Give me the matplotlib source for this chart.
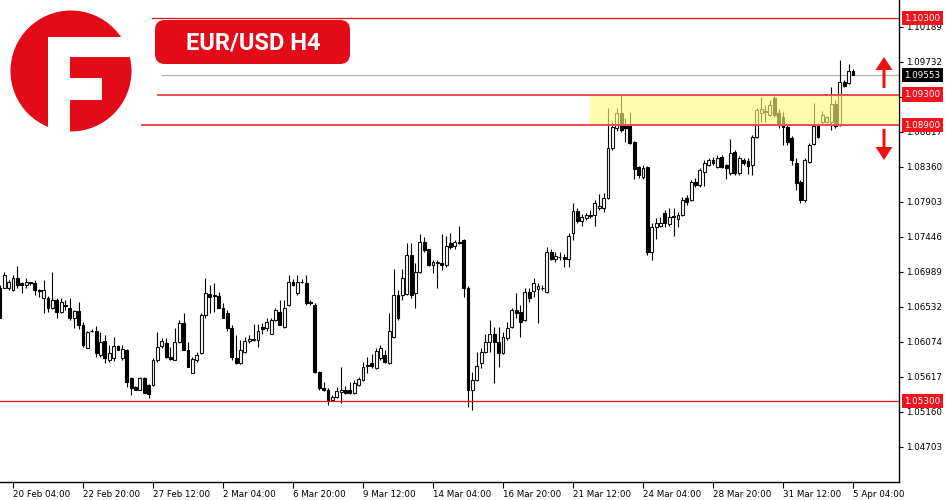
import matplotlib
matplotlib.use("Agg")
import numpy as np
import matplotlib.pyplot as plt
import matplotlib.transforms as mtransforms
from matplotlib.patches import Circle, Rectangle, FancyBboxPatch, FancyArrow

# EUR/USD H4 candles
opens = [
    1.0678, 1.0678, 1.0677, 1.0675, 1.0691, 1.0684, 1.0681, 1.0685, 1.0684, 1.0675,
    1.0664, 1.0664, 1.0652, 1.0662, 1.0646, 1.0655, 1.0651, 1.0638, 1.0647, 1.0629,
    1.0599, 1.0622, 1.0622, 1.0590, 1.0608, 1.0583, 1.0586, 1.0602, 1.0586, 1.0597,
    1.0560, 1.0548, 1.0545, 1.0560, 1.0551, 1.0551, 1.0583, 1.0602, 1.0606, 1.0587,
    1.0583, 1.0607, 1.0632, 1.0597, 1.0566, 1.0583, 1.0593, 1.0642, 1.0670, 1.0668,
    1.0667, 1.0652, 1.0645, 1.0625, 1.0586, 1.0580, 1.0594, 1.0608, 1.0610, 1.0610,
    1.0626, 1.0625, 1.0618, 1.0636, 1.0646, 1.0626, 1.0655, 1.0685, 1.0671, 1.0686,
    1.0684, 1.0659, 1.0656, 1.0568, 1.0547, 1.0545, 1.0531, 1.0535, 1.0542, 1.0545,
    1.0545, 1.0540, 1.0551, 1.0557, 1.0576, 1.0580, 1.0573, 1.0586, 1.0590, 1.0580,
    1.0613, 1.0668, 1.0668, 1.0670, 1.0720, 1.0671, 1.0698, 1.0738, 1.0728, 1.0708,
    1.0710, 1.0710, 1.0707, 1.0736, 1.0732, 1.0738, 1.0740, 1.0678, 1.0544, 1.0557,
    1.0580, 1.0594, 1.0607, 1.0618, 1.0607, 1.0593, 1.0612, 1.0626, 1.0649, 1.0646,
    1.0636, 1.0672, 1.0673, 1.0676, 1.0678, 1.0672, 1.0724, 1.0716, 1.0718, 1.0718,
    1.0716, 1.0749, 1.0778, 1.0765, 1.0769, 1.0773, 1.0773, 1.0782, 1.0782, 1.0795,
    1.0860, 1.0886, 1.0906, 1.0889, 1.0889, 1.0868, 1.0835, 1.0822, 1.0835, 1.0724,
    1.0757, 1.0758, 1.0775, 1.0761, 1.0771, 1.0767, 1.0773, 1.0795, 1.0792, 1.0816,
    1.0812, 1.0829, 1.0838, 1.0845, 1.0835, 1.0849, 1.0838, 1.0828, 1.0855, 1.0828,
    1.0845, 1.0843, 1.0838, 1.0875, 1.0906, 1.0908, 1.0903, 1.0925, 1.0906, 1.0901,
    1.0888, 1.0873, 1.0841, 1.0816, 1.0792, 1.0842, 1.0865, 1.0889, 1.0894, 1.0894,
    1.0894, 1.0918, 1.0890, 1.0946, 1.0945, 1.0961,
]
highs = [
    1.0681, 1.0698, 1.0688, 1.0695, 1.0706, 1.0685, 1.0691, 1.0686, 1.0688, 1.0676,
    1.0688, 1.0667, 1.0698, 1.0664, 1.0664, 1.0662, 1.0664, 1.0649, 1.0659, 1.0633,
    1.0622, 1.0624, 1.0628, 1.0620, 1.0616, 1.0603, 1.0613, 1.0603, 1.0603, 1.0598,
    1.0561, 1.0549, 1.0561, 1.0561, 1.0552, 1.0586, 1.0620, 1.0612, 1.0612, 1.0600,
    1.0625, 1.0636, 1.0645, 1.0607, 1.0588, 1.0594, 1.0645, 1.0691, 1.0681, 1.0684,
    1.0672, 1.0658, 1.0649, 1.0629, 1.0616, 1.0610, 1.0614, 1.0616, 1.0630, 1.0630,
    1.0632, 1.0638, 1.0638, 1.0651, 1.0662, 1.0662, 1.0694, 1.0689, 1.0694, 1.0689,
    1.0694, 1.0662, 1.0658, 1.0569, 1.0555, 1.0547, 1.0538, 1.0548, 1.0574, 1.0549,
    1.0555, 1.0557, 1.0562, 1.0581, 1.0587, 1.0591, 1.0599, 1.0603, 1.0597, 1.0645,
    1.0702, 1.0675, 1.0702, 1.0736, 1.0736, 1.0710, 1.0748, 1.0744, 1.0729, 1.0714,
    1.0714, 1.0748, 1.0746, 1.0749, 1.0740, 1.0759, 1.0742, 1.0680, 1.0568, 1.0594,
    1.0599, 1.0618, 1.0636, 1.0626, 1.0626, 1.0620, 1.0633, 1.0651, 1.0671, 1.0655,
    1.0677, 1.0677, 1.0690, 1.0684, 1.0682, 1.0731, 1.0729, 1.0725, 1.0724, 1.0722,
    1.0749, 1.0788, 1.0782, 1.0774, 1.0775, 1.0779, 1.0792, 1.0800, 1.0801, 1.0912,
    1.0894, 1.0912, 1.0930, 1.0899, 1.0907, 1.0869, 1.0837, 1.0838, 1.0837, 1.0763,
    1.0769, 1.0770, 1.0779, 1.0782, 1.0782, 1.0777, 1.0796, 1.0799, 1.0818, 1.0821,
    1.0834, 1.0845, 1.0847, 1.0849, 1.0851, 1.0851, 1.0839, 1.0872, 1.0858, 1.0850,
    1.0847, 1.0847, 1.0877, 1.0912, 1.0927, 1.0916, 1.0923, 1.0928, 1.0911, 1.0907,
    1.0890, 1.0876, 1.0847, 1.0818, 1.0847, 1.0867, 1.0919, 1.0892, 1.0908, 1.0902,
    1.0940, 1.0923, 1.0975, 1.0949, 1.0970, 1.0964,
]
lows = [
    1.0638, 1.0677, 1.0675, 1.0673, 1.0678, 1.0671, 1.0678, 1.0682, 1.0668, 1.0666,
    1.0645, 1.0646, 1.0650, 1.0638, 1.0645, 1.0649, 1.0636, 1.0625, 1.0624, 1.0600,
    1.0599, 1.0620, 1.0587, 1.0587, 1.0580, 1.0581, 1.0582, 1.0597, 1.0583, 1.0548,
    1.0538, 1.0545, 1.0544, 1.0540, 1.0534, 1.0549, 1.0581, 1.0599, 1.0586, 1.0583,
    1.0583, 1.0606, 1.0597, 1.0574, 1.0566, 1.0581, 1.0591, 1.0639, 1.0645, 1.0646,
    1.0651, 1.0638, 1.0622, 1.0583, 1.0578, 1.0578, 1.0593, 1.0606, 1.0608, 1.0600,
    1.0618, 1.0622, 1.0617, 1.0634, 1.0629, 1.0625, 1.0654, 1.0680, 1.0668, 1.0684,
    1.0656, 1.0655, 1.0566, 1.0545, 1.0543, 1.0525, 1.0530, 1.0534, 1.0528, 1.0539,
    1.0539, 1.0539, 1.0549, 1.0556, 1.0566, 1.0573, 1.0572, 1.0583, 1.0580, 1.0578,
    1.0612, 1.0636, 1.0662, 1.0668, 1.0664, 1.0651, 1.0697, 1.0724, 1.0706, 1.0697,
    1.0678, 1.0701, 1.0705, 1.0729, 1.0729, 1.0735, 1.0666, 1.0522, 1.0518, 1.0556,
    1.0573, 1.0593, 1.0594, 1.0553, 1.0574, 1.0591, 1.0610, 1.0625, 1.0639, 1.0613,
    1.0634, 1.0659, 1.0666, 1.0632, 1.0675, 1.0671, 1.0714, 1.0711, 1.0714, 1.0705,
    1.0705, 1.0740, 1.0763, 1.0759, 1.0766, 1.0769, 1.0759, 1.0779, 1.0777, 1.0794,
    1.0858, 1.0883, 1.0881, 1.0868, 1.0865, 1.0820, 1.0821, 1.0820, 1.0720, 1.0714,
    1.0742, 1.0757, 1.0757, 1.0758, 1.0746, 1.0757, 1.0771, 1.0786, 1.0791, 1.0809,
    1.0809, 1.0811, 1.0837, 1.0838, 1.0834, 1.0834, 1.0820, 1.0825, 1.0825, 1.0825,
    1.0838, 1.0826, 1.0825, 1.0873, 1.0894, 1.0894, 1.0902, 1.0901, 1.0886, 1.0864,
    1.0864, 1.0838, 1.0805, 1.0788, 1.0790, 1.0841, 1.0864, 1.0873, 1.0890, 1.0893,
    1.0884, 1.0886, 1.0889, 1.0940, 1.0944, 1.0955,
]
closes = [
    1.0639, 1.0694, 1.0685, 1.0690, 1.0681, 1.0682, 1.0685, 1.0684, 1.0675, 1.0673,
    1.0675, 1.0652, 1.0662, 1.0646, 1.0659, 1.0654, 1.0638, 1.0647, 1.0629, 1.0603,
    1.0620, 1.0621, 1.0593, 1.0607, 1.0586, 1.0593, 1.0602, 1.0597, 1.0598, 1.0555,
    1.0547, 1.0545, 1.0560, 1.0540, 1.0539, 1.0583, 1.0600, 1.0608, 1.0587, 1.0585,
    1.0607, 1.0632, 1.0597, 1.0574, 1.0585, 1.0590, 1.0642, 1.0671, 1.0666, 1.0667,
    1.0652, 1.0639, 1.0625, 1.0587, 1.0580, 1.0597, 1.0608, 1.0611, 1.0611, 1.0622,
    1.0624, 1.0633, 1.0636, 1.0649, 1.0629, 1.0652, 1.0685, 1.0681, 1.0686, 1.0685,
    1.0658, 1.0658, 1.0568, 1.0547, 1.0544, 1.0531, 1.0535, 1.0543, 1.0545, 1.0540,
    1.0540, 1.0553, 1.0559, 1.0574, 1.0577, 1.0576, 1.0595, 1.0599, 1.0581, 1.0621,
    1.0668, 1.0638, 1.0690, 1.0720, 1.0668, 1.0698, 1.0737, 1.0727, 1.0708, 1.0711,
    1.0711, 1.0708, 1.0733, 1.0731, 1.0737, 1.0736, 1.0678, 1.0544, 1.0557, 1.0576,
    1.0594, 1.0607, 1.0618, 1.0607, 1.0593, 1.0613, 1.0625, 1.0649, 1.0645, 1.0633,
    1.0672, 1.0664, 1.0684, 1.0680, 1.0677, 1.0724, 1.0716, 1.0719, 1.0718, 1.0716,
    1.0746, 1.0778, 1.0765, 1.0770, 1.0773, 1.0772, 1.0788, 1.0784, 1.0795, 1.0860,
    1.0888, 1.0906, 1.0884, 1.0886, 1.0867, 1.0833, 1.0825, 1.0834, 1.0724, 1.0757,
    1.0762, 1.0763, 1.0762, 1.0770, 1.0770, 1.0773, 1.0792, 1.0790, 1.0816, 1.0812,
    1.0831, 1.0841, 1.0845, 1.0841, 1.0847, 1.0835, 1.0834, 1.0854, 1.0828, 1.0847,
    1.0841, 1.0837, 1.0875, 1.0910, 1.0911, 1.0907, 1.0916, 1.0903, 1.0890, 1.0888,
    1.0868, 1.0845, 1.0814, 1.0792, 1.0845, 1.0864, 1.0889, 1.0875, 1.0903, 1.0901,
    1.0918, 1.0889, 1.0946, 1.0941, 1.0961, 1.0955,
]

date_labels = ["20 Feb 04:00", "22 Feb 20:00", "27 Feb 12:00", "2 Mar 04:00",
               "6 Mar 20:00", "9 Mar 12:00", "14 Mar 04:00", "16 Mar 20:00",
               "21 Mar 12:00", "24 Mar 04:00", "28 Mar 20:00", "31 Mar 12:00",
               "5 Apr 04:00"]
first_label_bar = 3
bars_per_label = 16

price_ticks = [1.04703, 1.05160, 1.05617, 1.06074, 1.06532, 1.06989, 1.07446,
               1.07903, 1.08360, 1.08817, 1.09274, 1.09732, 1.10189]
hidden_ticks = [1.09274]   # fully covered by the 1.09300 label
levels = [1.10300, 1.09300, 1.08900, 1.05300]
level_start = [0.169, 0.176, 0.158, 0.0]   # lines start right of the logo
last_price = 1.09553
zone = (1.08900, 1.09300)

RED = "#e30b17"

fig = plt.figure(figsize=(9.5, 5), dpi=100)
ax = fig.add_axes([0, 18 / 500, 899 / 950, 482 / 500])

o = np.array(opens)
h = np.array(highs)
l = np.array(lows)
c = np.array(closes)
x = np.arange(len(o))
up = c >= o

ax.vlines(x, l, h, color="black", lw=0.8, zorder=2)
bottom = np.minimum(o, c)
height = np.maximum(np.abs(c - o), 0.00003)
ax.bar(x[up], height[up], bottom=bottom[up], width=0.66, facecolor="white",
       edgecolor="#111111", linewidth=0.8, zorder=3)
ax.bar(x[~up], height[~up], bottom=bottom[~up], width=0.66, facecolor="black",
       edgecolor="black", linewidth=0.8, zorder=3)

# support / resistance
for lev, start in zip(levels, level_start):
    if lev in zone:
        ax.axhline(lev, xmin=start, xmax=1, color="#ec4b50", lw=1.4, zorder=5)
    else:
        ax.axhline(lev, xmin=start, xmax=1, color=RED, lw=0.9, zorder=5)
ax.axhline(last_price, xmin=0.180, xmax=1, color="#b4b4b4", lw=0.9, zorder=1)
ax.axhspan(zone[0], zone[1], xmin=590 / 899, xmax=1, facecolor="#ffff78",
           alpha=0.62, lw=0, zorder=4)

ax.set_xlim(0.03, 205.52)
ax.set_ylim(1.04243, 1.10535)

for s in ["top", "left"]:
    ax.spines[s].set_visible(False)
for s in ["right", "bottom"]:
    ax.spines[s].set_linewidth(1.0)
    ax.spines[s].set_color("black")

tick_idx = [first_label_bar + k * bars_per_label for k in range(len(date_labels))]
ax.set_xticks(tick_idx)
ax.set_xticklabels(date_labels, ha="left", fontsize=6.3, family="DejaVu Sans")
offset = mtransforms.ScaledTranslation(2 / 100, 0, fig.dpi_scale_trans)
for lab in ax.get_xticklabels():
    lab.set_transform(lab.get_transform() + offset)
ax.tick_params(axis="x", direction="out", length=4, width=0.8, pad=1.5)

ax.yaxis.tick_right()
ax.set_yticks(price_ticks)
ax.set_yticklabels(["" if p in hidden_ticks else f"{p:.5f}" for p in price_ticks],
                   fontsize=6.3, family="DejaVu Sans")
ax.tick_params(axis="y", direction="out", length=3, width=0.8, pad=2)

# price labels on the axis
blend = mtransforms.blended_transform_factory(ax.transAxes, ax.transData)
for lev in levels:
    ax.text(1.006, lev, f"{lev:.5f}", transform=blend, fontsize=6.3, color="white",
            va="center", ha="left", clip_on=False, zorder=6,
            bbox=dict(boxstyle="square,pad=0.3", fc="#f0141e", ec="none"))
ax.text(1.006, last_price, f"{last_price:.5f}", transform=blend, fontsize=6.3,
        color="white", va="center", ha="left", clip_on=False, zorder=6,
        bbox=dict(boxstyle="square,pad=0.3", fc="black", ec="none"))

# overlay in pixel coords: logo, title, arrows
ov = fig.add_axes([0, 0, 1, 1], zorder=5)
ov.set_xlim(0, 950)
ov.set_ylim(500, 0)
ov.axis("off")

ov.add_patch(Circle((71, 71), 60.5, color=RED, lw=0))
ov.add_patch(Rectangle((48.3, 36.7), 21.7, 100, color="white", lw=0))
ov.add_patch(Rectangle((48.3, 36.7), 90, 20, color="white", lw=0))
ov.add_patch(Rectangle((69.5, 78.3), 32.2, 21.7, color="white", lw=0))

ov.add_patch(FancyBboxPatch((155, 20), 195, 44, boxstyle="round,pad=0,rounding_size=10",
                            fc=RED, ec="none"))
ov.text(253, 43, "EUR/USD H4", color="white", fontsize=17, fontweight="bold",
        family="Roboto", ha="center", va="center")

ov.add_patch(FancyArrow(884, 88, 0, -31, width=3, head_width=17, head_length=13,
                        length_includes_head=True, color="#ee1111", lw=0))
ov.add_patch(FancyArrow(884, 129, 0, 31, width=3, head_width=17, head_length=13,
                        length_includes_head=True, color="#ee1111", lw=0))

fig.savefig("out.png", dpi=100, facecolor="white")
